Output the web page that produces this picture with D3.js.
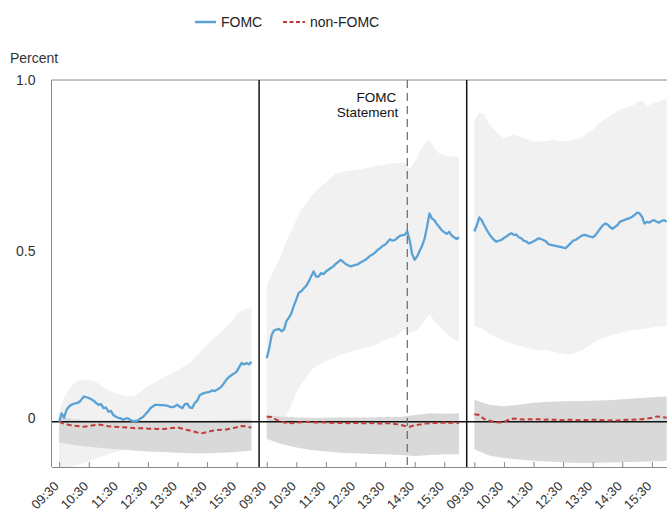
<!DOCTYPE html>
<html>
<head>
<meta charset="utf-8">
<script src="https://cdn.jsdelivr.net/npm/d3@7"></script>
<style>
  body { margin: 0; background: #fff; }
  svg { display: block; font-family: "Liberation Sans", Arial, Helvetica, sans-serif; }
</style>
</head>
<body>
<svg id="chart" width="667" height="511"></svg>
<script>
// Trading session, minutes after midnight (09:30 to 16:00)
const sessionStart = 570;
const sessionEnd = 960;
const statementMinute = 855; // 14:15
const tickMinutes = [570, 630, 690, 750, 810, 870, 930];
const tickLabels = ["09:30", "10:30", "11:30", "12:30", "13:30", "14:30", "15:30"];
const yTickValues = [0, 0.5, 1.0];
const yTickLabels = ["0", "0.5", "1.0"];
const seriesNames = ["FOMC", "non-FOMC"];

// FOMC average path, 5-minute steps: day before, announcement day, day after
const fomcMeanBefore = [0.0, 0.025, 0.012, 0.035, 0.045, 0.05, 0.053, 0.055, 0.057, 0.065,
  0.074, 0.072, 0.07, 0.066, 0.062, 0.055, 0.05, 0.052, 0.04, 0.042,
  0.03, 0.032, 0.02, 0.015, 0.012, 0.01, 0.006, 0.01, 0.01, 0.005,
  0.002, 0.003, 0.004, 0.01, 0.014, 0.022, 0.03, 0.04, 0.045, 0.05,
  0.05, 0.049, 0.049, 0.048, 0.047, 0.044, 0.043, 0.046, 0.05, 0.044,
  0.04, 0.052, 0.053, 0.042, 0.041, 0.055, 0.062, 0.078, 0.082, 0.085,
  0.086, 0.088, 0.092, 0.09, 0.094, 0.098, 0.105, 0.115, 0.125, 0.132,
  0.137, 0.142, 0.147, 0.16, 0.172, 0.168, 0.172, 0.168, 0.176];
const fomcMeanDay = [0.186, 0.215, 0.254, 0.268, 0.27, 0.272, 0.265, 0.27, 0.295, 0.305,
  0.318, 0.34, 0.358, 0.378, 0.382, 0.39, 0.398, 0.41, 0.425, 0.44,
  0.425, 0.425, 0.435, 0.432, 0.44, 0.445, 0.45, 0.455, 0.462, 0.468,
  0.474, 0.468, 0.462, 0.458, 0.455, 0.457, 0.459, 0.461, 0.466, 0.47,
  0.474, 0.48, 0.486, 0.49, 0.496, 0.503, 0.508, 0.515, 0.518, 0.526,
  0.534, 0.53, 0.532, 0.538, 0.544, 0.546, 0.547, 0.557, 0.53, 0.49,
  0.474, 0.484, 0.5, 0.515, 0.535, 0.57, 0.61, 0.595, 0.59, 0.578,
  0.57, 0.56, 0.555, 0.55, 0.556, 0.545, 0.54, 0.535, 0.54];
const fomcMeanAfter = [0.557, 0.575, 0.598, 0.59, 0.575, 0.562, 0.55, 0.54, 0.532, 0.527,
  0.53, 0.532, 0.538, 0.542, 0.548, 0.552, 0.547, 0.548, 0.54, 0.537,
  0.53, 0.528, 0.522, 0.524, 0.528, 0.532, 0.537, 0.535, 0.532, 0.528,
  0.52, 0.518, 0.516, 0.515, 0.513, 0.512, 0.51, 0.508, 0.515, 0.522,
  0.53, 0.532, 0.537, 0.542, 0.546, 0.547, 0.544, 0.542, 0.54, 0.545,
  0.555, 0.565, 0.574, 0.58, 0.578, 0.57, 0.565, 0.57, 0.575, 0.585,
  0.588, 0.591, 0.594, 0.596, 0.6, 0.605, 0.612, 0.61, 0.6, 0.58,
  0.585, 0.583, 0.588, 0.59, 0.585, 0.583, 0.588, 0.59, 0.585];

// FOMC confidence band, 10-minute steps
const fomcHighBefore = [0.03, 0.07, 0.095, 0.113, 0.12, 0.123, 0.122, 0.12, 0.112, 0.1,
  0.092, 0.087, 0.08, 0.077, 0.075, 0.074, 0.082, 0.095, 0.105, 0.112,
  0.12, 0.128, 0.135, 0.142, 0.15, 0.16, 0.168, 0.18, 0.195, 0.21,
  0.225, 0.24, 0.252, 0.265, 0.28, 0.295, 0.315, 0.325, 0.33, 0.335];
const fomcLowBefore = [-0.135, -0.134, -0.133, -0.13, -0.125, -0.12, -0.115, -0.11, -0.105, -0.1,
  -0.095, -0.09, -0.085, -0.08, -0.075, -0.07, -0.066, -0.063, -0.06, -0.057,
  -0.054, -0.05, -0.048, -0.046, -0.045, -0.043, -0.042, -0.04, -0.037, -0.034,
  -0.03, -0.028, -0.026, -0.025, -0.023, -0.021, -0.02, -0.018, -0.016, -0.015];
const fomcHighDay = [0.40, 0.43, 0.46, 0.49, 0.53, 0.56, 0.59, 0.62, 0.64, 0.66,
  0.675, 0.69, 0.70, 0.715, 0.725, 0.73, 0.733, 0.735, 0.738, 0.74,
  0.742, 0.745, 0.748, 0.75, 0.752, 0.754, 0.756, 0.757, 0.758, 0.74,
  0.76, 0.79, 0.815, 0.825, 0.80, 0.785, 0.78, 0.776, 0.776, 0.775];
const fomcLowDay = [-0.05, -0.025, -0.01, 0.0, 0.02, 0.05, 0.085, 0.11, 0.13, 0.15,
  0.163, 0.17, 0.177, 0.183, 0.19, 0.196, 0.2, 0.205, 0.21, 0.213,
  0.216, 0.22, 0.225, 0.232, 0.24, 0.245, 0.25, 0.26, 0.27, 0.26,
  0.265, 0.275, 0.295, 0.315, 0.295, 0.28, 0.265, 0.25, 0.24, 0.235];
const fomcHighAfter = [0.88, 0.905, 0.90, 0.87, 0.855, 0.84, 0.83, 0.835, 0.84, 0.835,
  0.83, 0.825, 0.82, 0.82, 0.82, 0.822, 0.825, 0.822, 0.82, 0.822,
  0.825, 0.828, 0.835, 0.845, 0.855, 0.87, 0.88, 0.89, 0.9, 0.91,
  0.915, 0.92, 0.925, 0.935, 0.94, 0.925, 0.93, 0.935, 0.94, 0.945];
const fomcLowAfter = [0.28, 0.275, 0.27, 0.258, 0.25, 0.245, 0.238, 0.232, 0.226, 0.222,
  0.22, 0.215, 0.212, 0.21, 0.212, 0.208, 0.205, 0.202, 0.198, 0.196,
  0.2, 0.205, 0.212, 0.22, 0.23, 0.238, 0.245, 0.25, 0.255, 0.258,
  0.262, 0.265, 0.268, 0.27, 0.272, 0.274, 0.276, 0.278, 0.279, 0.28];

// non-FOMC average path, 10-minute steps
const nonMeanBefore = [0.0, -0.005, -0.009, -0.011, -0.013, -0.014, -0.012, -0.01, -0.008, -0.01,
  -0.013, -0.014, -0.015, -0.016, -0.017, -0.018, -0.019, -0.019, -0.02, -0.02,
  -0.021, -0.021, -0.02, -0.018, -0.016, -0.02, -0.024, -0.027, -0.031, -0.033,
  -0.03, -0.026, -0.024, -0.023, -0.022, -0.019, -0.016, -0.012, -0.013, -0.017];
const nonMeanDay = [0.015, 0.014, 0.006, 0.0, -0.003, -0.004, -0.002, -0.001, 0.0, -0.001,
  -0.002, -0.001, -0.002, -0.003, -0.002, -0.003, -0.003, -0.004, -0.003, -0.004,
  -0.004, -0.003, -0.004, -0.005, -0.004, -0.004, -0.006, -0.008, -0.012, -0.014,
  -0.01, -0.008, -0.005, -0.004, -0.003, -0.004, -0.002, -0.003, -0.002, -0.003];
const nonMeanAfter = [0.022, 0.02, 0.008, 0.004, 0.0, -0.002, 0.0, 0.006, 0.01, 0.008,
  0.007, 0.008, 0.007, 0.008, 0.006, 0.007, 0.006, 0.006, 0.005, 0.006,
  0.006, 0.005, 0.006, 0.005, 0.006, 0.006, 0.005, 0.004, 0.005, 0.004,
  0.005, 0.006, 0.006, 0.007, 0.008, 0.01, 0.012, 0.016, 0.014, 0.012];

// non-FOMC confidence band, 30-minute steps
const nonHighBefore = [0.015, 0.008, 0.005, 0.004, 0.004, 0.003, 0.003, 0.004, 0.004, 0.003, 0.003, 0.005, 0.006, 0.006];
const nonLowBefore = [-0.06, -0.068, -0.073, -0.077, -0.08, -0.084, -0.087, -0.088, -0.09, -0.092, -0.092, -0.09, -0.088, -0.084];
const nonHighDay = [0.02, 0.015, 0.013, 0.012, 0.012, 0.013, 0.013, 0.013, 0.014, 0.014, 0.02, 0.025, 0.024, 0.025];
const nonLowDay = [-0.05, -0.065, -0.075, -0.082, -0.087, -0.09, -0.092, -0.094, -0.095, -0.097, -0.1, -0.097, -0.095, -0.095];
const nonHighAfter = [0.065, 0.05, 0.046, 0.05, 0.056, 0.059, 0.06, 0.061, 0.062, 0.063, 0.066, 0.069, 0.072, 0.074];
const nonLowAfter = [-0.08, -0.098, -0.106, -0.11, -0.114, -0.116, -0.118, -0.12, -0.12, -0.119, -0.118, -0.117, -0.116, -0.114];

// ---- layout ----
const W = 667, H = 511;
const plotLeft = 51.5, plotTop = 80, panelWidth = 207.6;
const edgePad = 15.5; // minutes of padding on each side of a session
const colors = { fomc: "#5aa2d6", non: "#c23b3b", fomcBand: "#f1f1f1", nonBand: "#d9d9d9" };

const svg = d3.select("#chart");

const y = d3.scaleLinear().domain([-0.132, 1.0]).range([467, plotTop]);

// pair an evenly spaced series with session minutes
const withTimes = arr => arr.map((v, i) => ({ t: sessionStart + i * (sessionEnd - sessionStart) / (arr.length - 1), v }));
const bandOf = (lo, hi) => lo.map((v, i) => ({
  t: sessionStart + i * (sessionEnd - sessionStart) / (lo.length - 1), lo: v, hi: hi[i]
}));

const panels = [
  { mean: fomcMeanBefore, hi: fomcHighBefore, lo: fomcLowBefore, nMean: nonMeanBefore, nHi: nonHighBefore, nLo: nonLowBefore },
  { mean: fomcMeanDay, hi: fomcHighDay, lo: fomcLowDay, nMean: nonMeanDay, nHi: nonHighDay, nLo: nonLowDay },
  { mean: fomcMeanAfter, hi: fomcHighAfter, lo: fomcLowAfter, nMean: nonMeanAfter, nHi: nonHighAfter, nLo: nonLowAfter }
];

const defs = svg.append("defs");
const scales = [];

panels.forEach((p, i) => {
  const x0 = plotLeft + i * panelWidth;
  const x = d3.scaleLinear()
    .domain([sessionStart - edgePad, sessionEnd + edgePad])
    .range([x0, x0 + panelWidth]);
  scales.push(x);

  defs.append("clipPath").attr("id", "clip" + i)
    .append("rect").attr("x", x0).attr("y", plotTop)
    .attr("width", panelWidth).attr("height", y(-0.132) - plotTop);

  const g = svg.append("g").attr("clip-path", `url(#clip${i})`);

  const area = d3.area().x(d => x(d.t)).y0(d => y(d.lo)).y1(d => y(d.hi));
  const line = d3.line().x(d => x(d.t)).y(d => y(d.v));

  g.append("path").datum(bandOf(p.lo, p.hi)).attr("d", area).attr("fill", colors.fomcBand);
  g.append("path").datum(bandOf(p.nLo, p.nHi)).attr("d", area).attr("fill", colors.nonBand);

  // zero line
  g.append("line").attr("x1", x0).attr("x2", x0 + panelWidth)
    .attr("y1", y(0)).attr("y2", y(0)).attr("stroke", "#111").attr("stroke-width", 1.5);

  g.append("path").datum(withTimes(p.nMean)).attr("d", line)
    .attr("fill", "none").attr("stroke", colors.non).attr("stroke-width", 2)
    .attr("stroke-dasharray", "5,3");
  g.append("path").datum(withTimes(p.mean)).attr("d", line)
    .attr("fill", "none").attr("stroke", colors.fomc).attr("stroke-width", 2.3)
    .attr("stroke-linejoin", "round");

  // bottom axis for this session
  const ax = svg.append("g").attr("transform", `translate(0,${y(-0.132)})`)
    .call(d3.axisBottom(x).tickValues(tickMinutes).tickSize(-5).tickSizeOuter(0)
      .tickFormat((d, k) => tickLabels[k]));
  ax.select(".domain").attr("stroke", "#888");
  ax.selectAll(".tick line").attr("stroke", "#888");
  ax.selectAll(".tick text")
    .attr("y", 0).attr("dy", 0)
    .attr("transform", "translate(0,20) rotate(-45)")
    .attr("text-anchor", "end")
    .attr("font-size", 13)
    .attr("font-family", "Liberation Sans, Arial, sans-serif")
    .attr("fill", "#333");
});

// frame: left axis and top edge
svg.append("line").attr("x1", plotLeft).attr("x2", plotLeft)
  .attr("y1", plotTop).attr("y2", y(-0.132)).attr("stroke", "#888");
svg.append("line").attr("x1", plotLeft).attr("x2", W)
  .attr("y1", plotTop).attr("y2", plotTop).attr("stroke", "#888");

// session dividers
[1, 2].forEach(i => {
  const xd = plotLeft + i * panelWidth;
  svg.append("line").attr("x1", xd).attr("x2", xd)
    .attr("y1", plotTop).attr("y2", y(-0.132))
    .attr("stroke", "#111").attr("stroke-width", 1.5);
});

// announcement marker
const xs = scales[1](statementMinute);
svg.append("line").attr("x1", xs).attr("x2", xs)
  .attr("y1", plotTop).attr("y2", y(-0.132))
  .attr("stroke", "#666").attr("stroke-width", 1.2).attr("stroke-dasharray", "8,5");
const note = svg.append("text").attr("text-anchor", "end").attr("font-size", 13.5).attr("fill", "#111");
note.append("tspan").attr("x", xs - 11).attr("y", 102).text("FOMC");
note.append("tspan").attr("x", xs - 9).attr("y", 117).text("Statement");

// left axis labels
const yAxis = svg.append("g").attr("transform", `translate(${plotLeft},0)`)
  .call(d3.axisLeft(y).tickValues(yTickValues).tickSize(0).tickPadding(16)
    .tickFormat((d, k) => yTickLabels[k]));
yAxis.select(".domain").remove();
yAxis.selectAll(".tick text")
  .attr("font-size", 14)
  .attr("font-family", "Liberation Sans, Arial, sans-serif")
  .attr("fill", "#333")
  .attr("dy", d => d === 0 ? "0.07em" : "0.33em");

svg.append("text").attr("x", 10).attr("y", 63).attr("font-size", 14).attr("fill", "#333").text("Percent");

// legend
const legend = svg.append("g").attr("font-size", 14).attr("fill", "#222");
legend.append("line").attr("x1", 195).attr("x2", 216).attr("y1", 22).attr("y2", 22)
  .attr("stroke", colors.fomc).attr("stroke-width", 2.5);
legend.append("text").attr("x", 221).attr("y", 27).text(seriesNames[0]);
legend.append("line").attr("x1", 283).attr("x2", 305).attr("y1", 22).attr("y2", 22)
  .attr("stroke", colors.non).attr("stroke-width", 2).attr("stroke-dasharray", "4,2.5");
legend.append("text").attr("x", 310).attr("y", 27).text(seriesNames[1]);
</script>
</body>
</html>
